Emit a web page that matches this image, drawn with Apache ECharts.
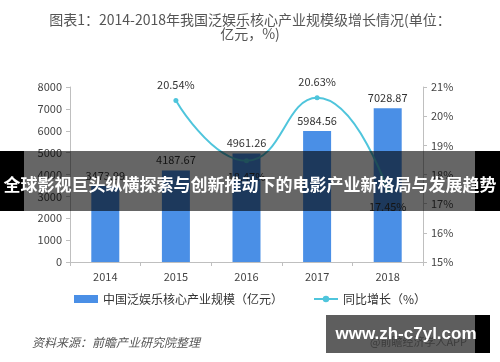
<!DOCTYPE html>
<html><head><meta charset="utf-8">
<script src="https://cdn.jsdelivr.net/npm/echarts@6/dist/echarts.min.js"></script>
<style>html,body{margin:0;padding:0;background:#fff}#c{width:500px;height:362px}</style>
</head><body><div id="c"></div>
<script>
var categories = ['2014','2015','2016','2017','2018'];
var scaleValues = [3473.99, 4187.67, 4961.26, 5984.56, 7028.87];
var growthValues = [null, 20.54, 18.47, 20.63, 17.45];
var growthLabelPos = [null, 'top', 'bottom', 'top', 'bottom'];
var leftTicks = [0, 8000, 1000];
var rightTicks = [15, 21, 1];
var titleText = '图表1：2014-2018年我国泛娱乐核心产业规模级增长情况(单位：\n亿元，%)';
var sourceText = '资料来源：前瞻产业研究院整理';
var bannerText = '全球影视巨头纵横探索与创新推动下的电影产业新格局与发展趋势';
var siteText = 'www.zh-c7yl.com';
var appText = '@前瞻经济学人APP';
var seriesNames = ['中国泛娱乐核心产业规模（亿元）', '同比增长（%）'];

var font = '"Noto Sans CJK SC","Liberation Sans",sans-serif';
var chart = echarts.init(document.getElementById('c'), null, {renderer:'canvas'});
var axisLine = {show:true, lineStyle:{color:'#bfbfbf', width:1}};
var option = {
  backgroundColor:'#fff',
  animation:false,
  textStyle:{fontFamily:font},
  title:{text:titleText, left:'center', top:8,
    textStyle:{fontSize:14, fontWeight:'normal', color:'#555', lineHeight:14, fontFamily:font}},
  grid:{left:70, right:77, top:87, bottom:100},
  legend:{bottom:52, left:'center', itemGap:30, itemWidth:24, itemHeight:8,
    textStyle:{fontSize:12, color:'#333', fontFamily:font},
    data:[{name:seriesNames[0], icon:'rect'}, {name:seriesNames[1]}]},
  xAxis:{type:'category', data:categories, axisLine:axisLine,
    axisTick:{show:true, length:4, lineStyle:{color:'#bfbfbf'}},
    axisLabel:{color:'#444', fontSize:11, margin:9}},
  yAxis:[
    {type:'value', min:leftTicks[0], max:leftTicks[1], interval:leftTicks[2], splitLine:{show:false},
      axisLine:axisLine, axisTick:{show:true, length:4, lineStyle:{color:'#bfbfbf'}},
      axisLabel:{color:'#444', fontSize:11, margin:8, formatter:function(v){return String(v);}}},
    {type:'value', min:rightTicks[0], max:rightTicks[1], interval:rightTicks[2], splitLine:{show:false},
      axisLine:axisLine, axisTick:{show:true, length:4, lineStyle:{color:'#bfbfbf'}},
      axisLabel:{color:'#444', fontSize:11, margin:8, formatter:'{value}%'}}
  ],
  series:[
    {name:seriesNames[0], type:'bar', data:scaleValues, barWidth:28, itemStyle:{color:'#4a8fe6'},
      label:{show:true, position:'top', distance:5, color:'#333', fontSize:11,
        formatter:function(p){return p.value.toFixed(2);}}},
    {name:seriesNames[1], type:'line', yAxisIndex:1, smooth:0.5, data:growthValues.map(function(v,i){
        return v===null?null:{value:v, label:{position:growthLabelPos[i]}};}),
      connectNulls:false, symbol:'circle', symbolSize:5,
      lineStyle:{color:'#4fc5dc', width:2}, itemStyle:{color:'#4fc5dc'},
      label:{show:true, color:'#333', fontSize:11, distance:8,
        formatter:function(p){return p.value.toFixed(2)+'%';}}}
  ],
  graphic:[
    {type:'text', left:370, top:336, z:50, style:{text:appText, fill:'#777', font:'11px '+font}},
    {type:'text', left:32, top:336, z:50, style:{text:sourceText, fill:'#555', font:'italic 12px '+font}},
    {type:'rect', shape:{x:0, y:151, width:500, height:60}, z:100, style:{fill:'rgba(0,0,0,0.6)'}},
    {type:'rect', shape:{x:0, y:151, width:24, height:60}, z:101, style:{fill:'#000'}},
    {type:'rect', shape:{x:475, y:151, width:25, height:60}, z:101, style:{fill:'#000'}},
    {type:'text', z:102, style:{text:bannerText, x:250, y:185, textAlign:'center', textVerticalAlign:'middle',
      fill:'#fff', font:'bold 17px '+font}},
    {type:'rect', shape:{x:326, y:315, width:164, height:38}, z:100, style:{fill:'rgba(40,40,40,0.75)'}},
    {type:'rect', shape:{x:475, y:315, width:15, height:38}, z:101, style:{fill:'#000'}},
    {type:'text', z:102, style:{text:siteText, x:406, y:334, textAlign:'center', textVerticalAlign:'middle',
      fill:'#fff', font:'bold 17px "Liberation Sans",sans-serif'}}
  ]
};
chart.setOption(option);
</script></body></html>
